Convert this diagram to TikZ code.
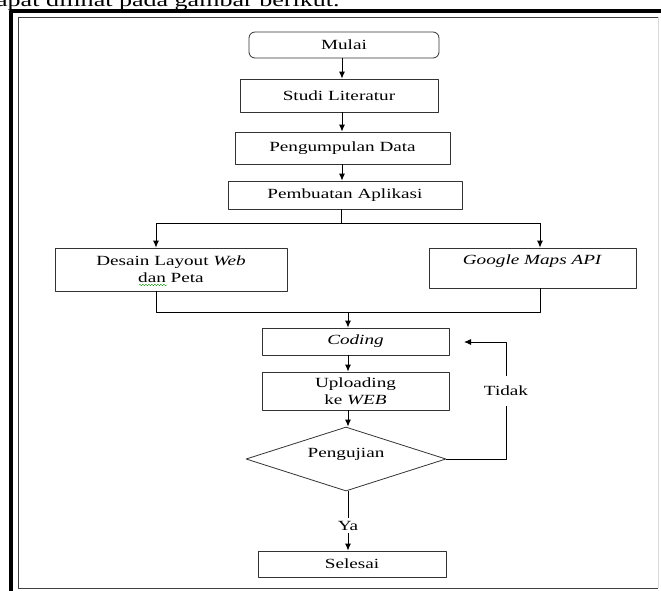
\documentclass[tikz,border=0pt]{standalone}
\usepackage{fontspec}
\setmainfont{Liberation Serif}[FakeStretch=1.37]
\usetikzlibrary{shapes.geometric,arrows.meta,decorations.pathmorphing}
\begin{document}
\begin{tikzpicture}[x=1pt, y=-1pt, >={Latex[length=7pt,width=6pt]}, line join=round,
	font=\fontsize{14}{17}\selectfont,
	kotak/.style={draw=black!80, line width=0.8pt, inner sep=0pt, align=center},
	garis/.style={line width=0.9pt}]
			\useasboundingbox (0,0) rectangle (661,590);
			% bingkai
			\node[anchor=base east, font=\fontsize{19}{22}\selectfont] (judul) at (343,6) {dapat dilihat pada gambar berikut.};
			\draw[line width=3.5pt] (11,592) -- (11,11) -- (663,11);
			\draw[line width=1pt, black!75] (658,17) -- (18.5,17) -- (18.5,588) -- (658,588);
			\draw[gray!30] (658,17) -- (658,588);
			% kotak-kotak
			\node[kotak, rounded corners=6pt, minimum width=190pt, minimum height=26pt] (mulai) at (344,45) {Mulai};
			\node[kotak, minimum width=198pt, minimum height=33pt] (studi) at (339,95.5) {Studi Literatur};
			\node[kotak, minimum width=215pt, minimum height=32pt] (data) at (342.5,148) {Pengumpulan Data};
			\node[kotak, minimum width=234pt, minimum height=28pt] (aplikasi) at (345,195) {Pembuatan Aplikasi};
			\node[kotak, minimum width=232pt, minimum height=43pt] (desain) at (171,269.5) {Desain Layout \textit{Web}\\dan Peta};
			\node[kotak, minimum width=207pt, minimum height=40pt] (maps) at (532.5,268) {\textit{Google Maps API}\\\mbox{}};
			\node[kotak, minimum width=187pt, minimum height=27pt] (coding) at (355.5,341.5) {\textit{Coding}};
			\node[kotak, minimum width=187pt, minimum height=38pt] (upload) at (355.5,391) {Uploading\\ke \textit{WEB}};
			\node[kotak, diamond, aspect=3.1, minimum width=200pt, minimum height=64pt, text depth=12pt] (uji) at (346,459) {Pengujian};
			\node[kotak, minimum width=188pt, minimum height=26pt] (selesai) at (352,564) {Selesai};
			\draw[green!55!black, decorate, decoration={snake, amplitude=0.7pt, segment length=3pt}] (139,285) -- (167,285);
			% titik bantu
			\coordinate (cabang) at (341,223);
			\coordinate (kiri) at (156,223);
			\coordinate (kanan) at (540,223);
			\coordinate (kiri2) at (156,312);
			\coordinate (kanan2) at (540,312);
			\coordinate (gabung) at (348,312);
			\coordinate (balik) at (506,342);
			\coordinate (panah) at (464,342);
			% alur
			\draw[garis,->] (mulai.south -| 342,0) -- (studi.north -| 342,0);
			\draw[garis,->] (studi.south -| 342,0) -- (data.north -| 342,0);
			\draw[garis,->] (data.south -| 342,0) -- (aplikasi.north -| 342,0);
			\draw[garis] (aplikasi.south -| cabang) -- (cabang);
			\draw[garis] (kiri) -- (kanan);
			\draw[garis,->] (kiri) -- (kiri |- desain.north);
			\draw[garis,->] (kanan) -- (kanan |- maps.north);
			\draw[garis] (kiri |- desain.south) -- (kiri2) -- (kanan2) -- (kanan |- maps.south);
			\draw[garis,->] (gabung) -- (gabung |- coding.north);
			\draw[garis,->] (gabung |- coding.south) -- (gabung |- upload.north);
			\draw[garis,->] (gabung |- upload.south) -- (gabung |- uji.north);
			\draw[garis,->] (uji.east) -| node[pos=0.79, fill=white, inner ysep=10pt]{Tidak} (balik) -- (panah);
			\draw[garis,->] (gabung |- uji.south) -- node[pos=0.58, fill=white, inner sep=3pt]{Ya} (gabung |- selesai.north);
		\end{tikzpicture}
\end{document}
